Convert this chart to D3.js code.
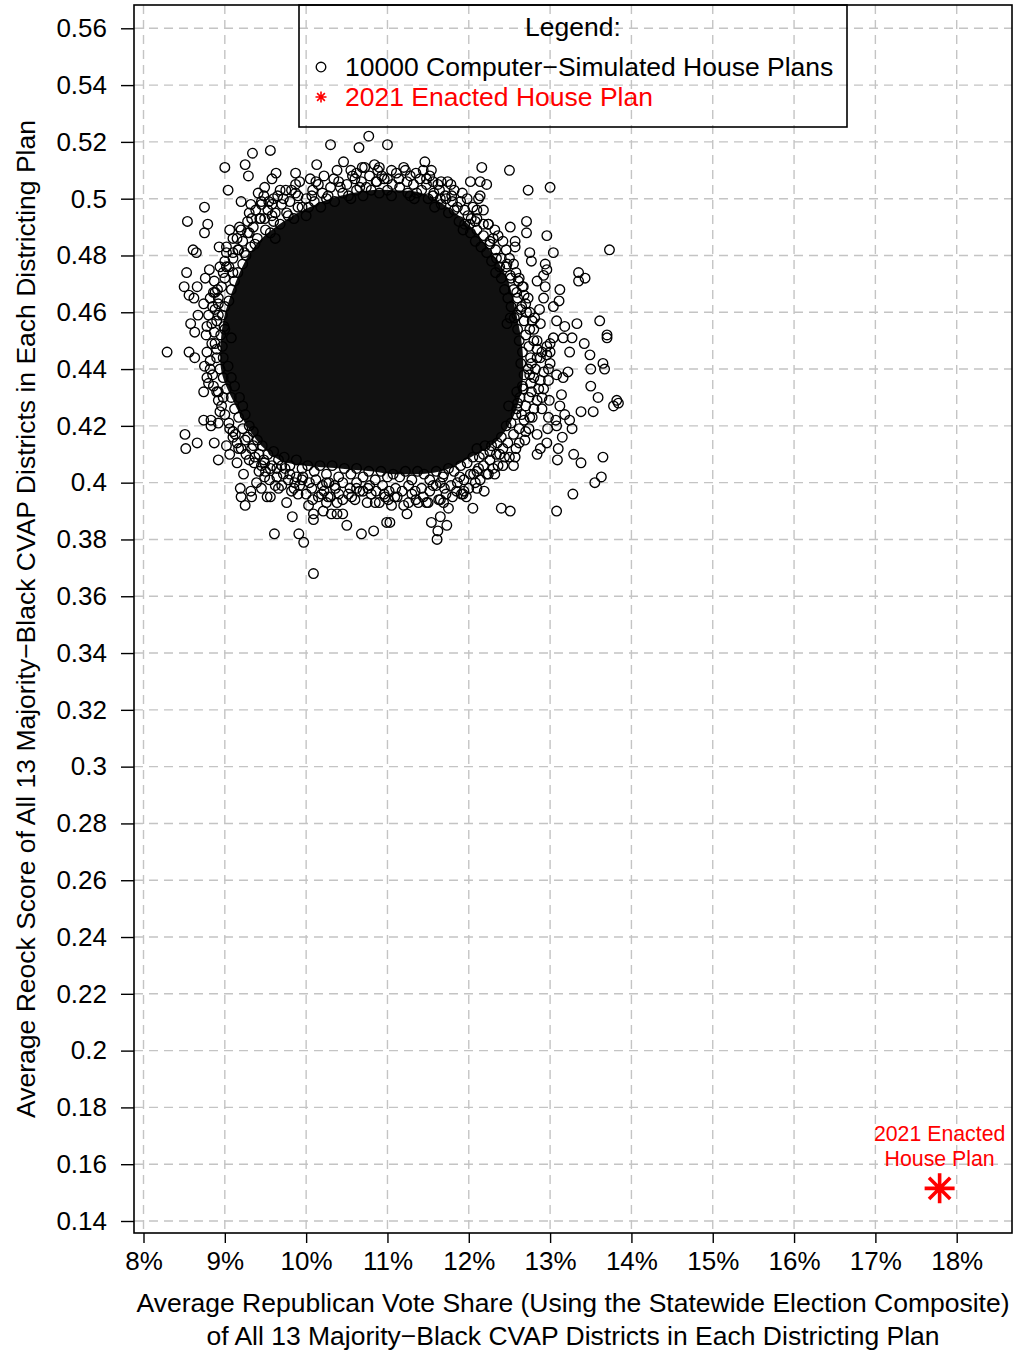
<!DOCTYPE html>
<html><head><meta charset="utf-8">
<script src="https://cdn.jsdelivr.net/npm/d3@7"></script>
<style>body{margin:0;background:#fff} svg{display:block} text{font-family:"Liberation Sans",Arial,Helvetica,sans-serif}</style>
</head><body><svg id="c" width="1014" height="1353"></svg>
<script>
const xTickValues=[8,9,10,11,12,13,14,15,16,17,18];
const xTickLabels=["8%","9%","10%","11%","12%","13%","14%","15%","16%","17%","18%"];
const yTickValues=[0.14,0.16,0.18,0.2,0.22,0.24,0.26,0.28,0.3,0.32,0.34,0.36,0.38,0.4,0.42,0.44,0.46,0.48,0.5,0.52,0.54,0.56];
const yTickLabels=["0.14","0.16","0.18","0.2","0.22","0.24","0.26","0.28","0.3","0.32","0.34","0.36","0.38","0.4","0.42","0.44","0.46","0.48","0.5","0.52","0.54","0.56"];
// outline of the region where the simulated-plan circles overlap into solid black
const simCoreOutline=[[9.42,.485],[9.72,.492],[10.04,.497],[10.42,.501],[10.79,.503],[11.10,.503],[11.42,.502],[11.74,.497],[12.03,.490],[12.28,.481],[12.47,.472],[12.58,.460],[12.66,.447],[12.66,.435],[12.56,.424],[12.36,.415],[12.03,.409],[11.66,.404],[11.10,.403],[10.79,.404],[10.41,.405],[9.97,.406],[9.67,.408],[9.45,.413],[9.27,.420],[9.10,.429],[8.96,.439],[8.95,.449],[8.99,.458],[9.10,.468],[9.25,.478]];
// densely packed simulated plans around the solid region (inner, middle, outer bands and extra)
const simBandInner=[[9.40,.486],[9.50,.489],[9.60,.492],[9.68,.491],[9.76,.495],[9.85,.493],[9.95,.497],[10.00,.494],[10.10,.499],[10.18,.497],[10.25,.500],[10.35,.499],[10.45,.502],[10.55,.500],[10.62,.503],[10.70,.501],[10.80,.503],[10.90,.502],[11.00,.503],[11.05,.501],[11.15,.504],[11.25,.502],[11.33,.500],[11.42,.503],[11.50,.500],[11.58,.497],[11.66,.498],[11.75,.495],[11.82,.496],[11.88,.492],[11.93,.489],[12.02,.488],[12.08,.485],[12.15,.483],[12.22,.481],[12.28,.478],[12.33,.474],[12.40,.472],[12.44,.468],[12.48,.465],[12.52,.462],[12.56,.458],[12.60,.454],[12.62,.450],[12.66,.446],[12.64,.442],[12.68,.438],[12.66,.434],[12.63,.430],[12.60,.428],[12.58,.424],[12.52,.421],[12.46,.420],[12.40,.416],[12.35,.414],[12.28,.413],[12.20,.413],[12.13,.409],[12.05,.409],[11.98,.407],[11.90,.406],[11.82,.404],[11.75,.405],[11.68,.402],[11.60,.404],[11.52,.401],[11.45,.403],[11.37,.404],[11.30,.401],[11.22,.404],[11.15,.402],[11.07,.403],[11.00,.402],[10.92,.404],[10.85,.401],[10.77,.404],[10.70,.402],[10.62,.405],[10.55,.403],[10.47,.405],[10.40,.402],[10.32,.406],[10.25,.403],[10.17,.406],[10.10,.404],[10.02,.406],[9.95,.405],[9.88,.408],[9.80,.406],[9.73,.409],[9.66,.408],[9.60,.411],[9.53,.410],[9.46,.413],[9.40,.415],[9.35,.418],[9.30,.420],[9.25,.424],[9.22,.427],[9.18,.430],[9.12,.434],[9.08,.437],[9.04,.441],[8.98,.444],[8.97,.448],[8.95,.452],[8.99,.455],[8.97,.459],[9.00,.462],[9.05,.464],[9.08,.468],[9.12,.471],[9.16,.474],[9.22,.477],[9.26,.480],[9.32,.483]];
const simBandMiddle=[[9.35,.490],[9.44,.493],[9.53,.496],[9.62,.495],[9.70,.498],[9.80,.499],[9.90,.501],[10.00,.500],[10.08,.503],[10.20,.502],[10.30,.504],[10.40,.506],[10.50,.505],[10.60,.507],[10.68,.506],[10.78,.508],[10.86,.506],[10.96,.507],[11.06,.505],[11.14,.507],[11.24,.506],[11.32,.505],[11.40,.507],[11.48,.505],[11.57,.502],[11.64,.503],[11.72,.500],[11.80,.499],[11.86,.497],[11.95,.496],[12.03,.493],[12.10,.489],[12.18,.487],[12.26,.485],[12.33,.482],[12.40,.479],[12.46,.476],[12.52,.472],[12.55,.468],[12.60,.465],[12.64,.461],[12.68,.457],[12.70,.452],[12.74,.448],[12.76,.444],[12.73,.440],[12.76,.435],[12.74,.430],[12.70,.427],[12.68,.422],[12.62,.419],[12.55,.417],[12.48,.414],[12.42,.412],[12.34,.410],[12.26,.408],[12.18,.406],[12.10,.404],[12.02,.403],[11.94,.401],[11.86,.400],[11.78,.399],[11.70,.398],[11.60,.399],[11.52,.397],[11.42,.398],[11.34,.397],[11.26,.399],[11.18,.397],[11.10,.398],[11.02,.397],[10.94,.399],[10.86,.397],[10.78,.399],[10.70,.397],[10.62,.400],[10.54,.398],[10.45,.400],[10.36,.398],[10.28,.400],[10.20,.399],[10.12,.401],[10.04,.400],[9.96,.402],[9.88,.402],[9.80,.403],[9.72,.403],[9.64,.405],[9.56,.405],[9.48,.408],[9.42,.410],[9.35,.413],[9.28,.416],[9.22,.419],[9.17,.423],[9.12,.426],[9.08,.430],[9.02,.433],[8.98,.437],[8.94,.440],[8.90,.444],[8.88,.449],[8.87,.453],[8.90,.457],[8.88,.461],[8.92,.465],[8.96,.469],[9.00,.472],[9.05,.476],[9.10,.479],[9.16,.482],[9.22,.485],[9.28,.488]];
const simBandOuter=[[9.30,.495],[9.45,.498],[9.60,.500],[9.75,.503],[9.92,.506],[10.05,.507],[10.22,.508],[10.38,.510],[10.55,.510],[10.72,.511],[10.88,.510],[11.05,.510],[11.20,.511],[11.35,.509],[11.52,.508],[11.66,.506],[11.82,.503],[11.98,.500],[12.10,.496],[12.24,.491],[12.36,.487],[12.46,.482],[12.55,.477],[12.62,.472],[12.68,.466],[12.75,.460],[12.80,.454],[12.84,.447],[12.82,.440],[12.86,.433],[12.80,.426],[12.74,.419],[12.62,.414],[12.50,.409],[12.36,.406],[12.22,.403],[12.08,.400],[11.94,.397],[11.80,.395],[11.65,.394],[11.50,.393],[11.35,.394],[11.20,.392],[11.05,.392],[10.90,.393],[10.75,.393],[10.60,.394],[10.45,.394],[10.30,.395],[10.15,.395],[10.00,.396],[9.85,.398],[9.70,.399],[9.55,.401],[9.42,.404],[9.30,.408],[9.20,.412],[9.10,.418],[9.00,.424],[8.92,.429],[8.86,.434],[8.82,.440],[8.78,.446],[8.77,.452],[8.80,.459],[8.82,.465],[8.87,.471],[8.94,.476],[9.02,.481],[9.10,.486],[9.18,.490]];
const simBandExtra=[[9.28,.492],[9.38,.496],[9.48,.501],[9.58,.498],[9.68,.503],[9.15,.486],[9.10,.481],[9.24,.481],[9.82,.503],[10.12,.506],[10.34,.507],[10.62,.509],[10.84,.512],[11.00,.507],[11.28,.508],[11.44,.510],[11.62,.505],[11.78,.505],[11.92,.502],[12.05,.497],[12.32,.489],[12.42,.485],[12.50,.479],[12.58,.474],[12.66,.469],[12.70,.463],[12.78,.457],[12.80,.450],[12.88,.444],[12.80,.437],[12.90,.430],[12.78,.423],[12.70,.418],[12.58,.412],[12.44,.409],[12.30,.405],[12.14,.401],[12.00,.398],[11.85,.397],[11.72,.396],[11.44,.395],[11.30,.396],[11.12,.395],[10.96,.396],[10.80,.396],[10.66,.397],[10.52,.396],[10.38,.393],[10.22,.397],[10.08,.394],[9.92,.399],[9.78,.401],[9.64,.402],[9.50,.404],[9.36,.407],[9.26,.410],[9.15,.414],[9.05,.421],[8.96,.427],[8.90,.432],[8.85,.438],[8.82,.443],[8.84,.456],[8.85,.462],[8.91,.468],[8.98,.474]];
// individually visible simulated plans (vote share %, Reock score)
const simPoints=[[9.34,.516],[9.56,.517],[9.00,.511],[9.25,.512],[9.29,.508],[9.04,.503],[8.75,.497],[8.54,.492],[8.79,.491],[8.75,.488],[9.20,.499],[9.32,.498],[9.63,.509],[9.58,.507],[9.87,.509],[9.87,.505],[9.87,.502],[10.13,.512],[10.15,.505],[10.30,.519],[10.46,.513],[10.57,.508],[10.65,.518],[10.77,.522],[10.69,.511],[11.00,.519],[10.90,.511],
[8.61,.482],[8.65,.481],[8.93,.483],[9.02,.483],[9.17,.482],[8.53,.474],[8.50,.469],[8.81,.475],[8.76,.472],[8.56,.466],[8.66,.469],[8.62,.465],[8.74,.463],[8.88,.467],[8.67,.459],[8.58,.456],[8.63,.453],[8.78,.455],[8.29,.446],[8.56,.446],[9.06,.489],[9.41,.502],[9.49,.504],[9.54,.499],[9.45,.499],[9.65,.501],[9.72,.500],[9.33,.493],[9.43,.493],[9.49,.493],[9.58,.494],[9.20,.489],[9.30,.488],[9.37,.484],[9.56,.488],[9.62,.486],[9.78,.494],[9.90,.497],[10.03,.497],[10.07,.501],[10.27,.501],[10.42,.504],[10.52,.501],[10.66,.504],[10.74,.504],[10.87,.506],[10.93,.508],
[9.00,.478],[9.02,.476],[9.10,.474],[8.86,.467],[8.92,.463],[8.92,.459],[9.00,.454],[9.08,.451],[8.84,.449],[8.90,.447],
[8.63,.444],[8.75,.441],[8.78,.437],[8.80,.435],[8.74,.432],[8.92,.432],[8.98,.430],[8.94,.425],[8.83,.422],[8.74,.422],[8.92,.421],[8.83,.420],[8.51,.417],[8.52,.412],[8.66,.414],[8.87,.414],[8.92,.408],[9.06,.419],[9.10,.416],[9.02,.413],[9.06,.410],[9.15,.407],[9.23,.403],[9.19,.398],[9.20,.395],[9.25,.392],[9.32,.397],[9.33,.395],
[9.39,.400],[9.45,.398],[9.49,.402],[9.52,.395],[9.56,.395],[9.62,.399],[9.66,.398],[9.76,.393],[9.83,.388],[9.61,.382],[9.91,.382],[9.97,.379],[10.09,.368],[10.03,.392],[10.09,.389],[10.09,.387],[10.21,.390],[10.25,.393],[10.31,.389],[10.38,.389],[10.45,.389],[10.50,.385],[9.86,.400],[9.95,.401],[9.82,.397],[9.90,.396],[10.07,.398],[10.19,.396],[10.27,.395],[10.40,.396],[10.56,.395],[10.62,.398],[10.68,.382],[10.83,.383],[10.99,.386],[10.76,.398],[10.85,.393],[10.97,.395],[11.01,.394],[10.35,.399],[10.25,.400],[9.70,.406],[9.74,.405],[9.58,.406],[9.49,.407],[9.13,.417],[9.25,.415],[9.17,.412],[9.33,.412],[9.37,.409],[9.45,.406],
[13.24,.446],[13.49,.445],[13.65,.442],[13.67,.440],[13.50,.440],[13.50,.434],[13.59,.430],[13.53,.425],[13.38,.425],[13.82,.429],[13.78,.427],[13.84,.428],[13.65,.409],[13.63,.402],[13.55,.400],[13.28,.396],[13.38,.407],[13.29,.410],[13.08,.390],[13.09,.408],[13.10,.412],[13.15,.416],[13.07,.422],[12.97,.419],[12.96,.414],[12.88,.412],[12.84,.410],[12.84,.417],[13.24,.422],[13.27,.419],[13.18,.424],[13.12,.427],[13.14,.431],[12.99,.429],[13.00,.442],[12.98,.436],[12.92,.433],[12.40,.391],[12.51,.390],[12.05,.391],[12.19,.397],[12.10,.398],[11.97,.395],[11.93,.396],[11.61,.380],[11.62,.383],[11.54,.386],[11.65,.388],[11.73,.385],[11.75,.391],[11.69,.393],[11.63,.394],[11.24,.389],[11.26,.393],[11.38,.393],[11.48,.393],[11.09,.395],[11.03,.386],[11.56,.399],[11.65,.400],[11.69,.403],[11.89,.402],[11.91,.396],[12.06,.403],[12.12,.405],[12.24,.403],[12.32,.403],[12.42,.406],[12.55,.406],[12.57,.409],[12.38,.410],[12.26,.411],[12.18,.410],[12.10,.412],[12.69,.415],[12.75,.423],[12.65,.424],[12.59,.426],[12.49,.427],[12.98,.423],[13.08,.420],[12.90,.426],[12.84,.429],[12.77,.432],[12.67,.433],[12.59,.432],[12.88,.436],[12.92,.439],[12.98,.440],[13.08,.438],[13.16,.437],[13.22,.439],[12.75,.438],[12.77,.442],[12.84,.444],[12.96,.445],[13.00,.446],
[11.46,.513],[11.54,.510],[11.48,.507],[11.56,.506],[11.22,.510],[11.11,.509],[11.74,.506],[12.02,.506],[12.14,.506],[12.22,.505],[12.16,.511],[12.50,.510],[12.73,.503],[13.00,.504],[12.14,.501],[12.12,.500],[12.18,.496],[11.90,.499],[11.79,.501],[11.71,.501],[11.65,.500],[11.56,.501],[11.36,.502],[11.28,.501],[12.51,.490],[12.71,.492],[12.71,.488],[12.57,.485],[12.57,.483],[12.96,.487],[13.04,.481],[13.73,.482],[13.35,.474],[13.43,.472],[13.35,.471],[12.24,.491],[12.30,.486],[12.26,.484],[12.08,.492],[11.99,.494],[11.95,.491],[12.75,.481],[12.77,.478],[12.94,.477],[12.96,.475],[12.92,.473],[12.84,.471],[12.94,.469],[13.12,.468],[13.11,.464],[13.04,.462],[12.92,.465],[12.87,.461],[13.61,.457],[13.70,.452],[13.70,.451],[13.42,.449],[13.33,.456],[13.27,.451],[13.18,.455],[13.08,.457],[13.16,.451],[13.04,.451],[13.00,.449],[12.96,.448],[12.88,.456],[12.81,.458],[12.71,.460],[12.73,.465],[12.67,.469],[12.59,.467],[12.61,.471],[12.51,.473],[12.47,.477],[12.38,.476],[12.34,.479],[12.65,.462],[12.59,.459],[12.51,.458],[12.47,.456],[12.75,.454],[12.84,.450],[12.90,.446],[12.18,.491],[12.10,.493],[12.01,.491]];
const enactedPlan=[[17.79,0.1515]];
const legendLabels=["10000 Computer\u2212Simulated House Plans","2021 Enacted House Plan"];
const annotationLines=["2021 Enacted","House Plan"];
const xTitleLines=["Average Republican Vote Share (Using the Statewide Election Composite)","of All 13 Majority\u2212Black CVAP Districts in Each Districting Plan"];
const yTitle="Average Reock Score of All 13 Majority\u2212Black CVAP Districts in Each Districting Plan";

const svg=d3.select("#c");
const L=134,R=1012,T=5,B=1233;
const x=d3.scaleLinear().domain([8,18]).range([143.5,956.7]);
const y=d3.scaleLinear().domain([0.14,0.56]).range([1221,28.3]);
const gridCol="#c4c4c4";
const FS=26.5, TFS=26, PR=4.8, PW=1.35;

// grid
const grid=svg.append("g").attr("stroke",gridCol).attr("stroke-width",1.4).attr("stroke-dasharray","9,6");
grid.selectAll("line.v").data(xTickValues).join("line").attr("x1",d=>x(d)).attr("x2",d=>x(d)).attr("y1",T).attr("y2",B);
grid.selectAll("line.h").data(yTickValues).join("line").attr("y1",d=>y(d)).attr("y2",d=>y(d)).attr("x1",L).attr("x2",R);

// solid overlap region
svg.append("path").datum(simCoreOutline)
  .attr("d",d3.line().x(d=>x(d[0])).y(d=>y(d[1])).curve(d3.curveCatmullRomClosed))
  .attr("fill","#111");

const pts=svg.append("g").attr("fill","none").attr("stroke","#000").attr("stroke-width",PW);
[simBandInner,simBandMiddle,simBandOuter,simBandExtra,simPoints].forEach(arr=>
  pts.append("g").selectAll("circle").data(arr).join("circle").attr("cx",d=>x(d[0])).attr("cy",d=>y(d[1])).attr("r",PR));

function asterisk(g,cx,cy,len,sw){
  const d=len/Math.SQRT2;
  const p=`M${cx-len},${cy}L${cx+len},${cy}M${cx},${cy-len}L${cx},${cy+len}M${cx-d},${cy-d}L${cx+d},${cy+d}M${cx-d},${cy+d}L${cx+d},${cy-d}`;
  g.append("path").attr("d",p).attr("stroke","#ff0000").attr("stroke-width",sw).attr("fill","none");
}
enactedPlan.forEach(d=>asterisk(svg,x(d[0]),y(d[1]),15,3.6));
const ann=svg.append("g").attr("fill","#ff0000").attr("font-size",21.3).attr("text-anchor","middle");
annotationLines.forEach((t,i)=>ann.append("text").attr("x",x(enactedPlan[0][0])).attr("y",y(enactedPlan[0][1])-47+i*25).text(t));

// frame
svg.append("rect").attr("x",L).attr("y",T).attr("width",R-L).attr("height",B-T).attr("fill","none").attr("stroke","#000").attr("stroke-width",1.6);

// axes
const xa=svg.append("g").attr("transform",`translate(0,${B})`)
  .call(d3.axisBottom(x).tickValues(xTickValues).tickFormat((d,i)=>xTickLabels[i]).tickSize(10).tickPadding(8.5));
const ya=svg.append("g").attr("transform",`translate(${L},0)`)
  .call(d3.axisLeft(y).tickValues(yTickValues).tickFormat((d,i)=>yTickLabels[i]).tickSize(13).tickPadding(14));
[xa,ya].forEach(a=>{a.select(".domain").remove();a.selectAll("line").attr("stroke","#000").attr("stroke-width",1.4);
  a.selectAll("text").attr("font-size",TFS).attr("fill","#000").attr("font-family","'Liberation Sans',Arial,sans-serif");});

// axis titles
xTitleLines.forEach((t,i)=>svg.append("text").attr("x",(L+R)/2).attr("y",1312+i*33).attr("text-anchor","middle").attr("font-size",FS).text(t));
svg.append("text").attr("transform",`translate(35,${(T+B)/2}) rotate(-90)`).attr("text-anchor","middle").attr("font-size",FS).text(yTitle);

// legend
const lg=svg.append("g");
lg.append("rect").attr("x",299).attr("y",T).attr("width",548).attr("height",122).attr("fill","none").attr("stroke","#000").attr("stroke-width",1.6);
lg.append("text").attr("x",573).attr("y",36).attr("text-anchor","middle").attr("font-size",FS).text("Legend:");
lg.append("circle").attr("cx",321).attr("cy",67).attr("r",PR).attr("fill","none").attr("stroke","#000").attr("stroke-width",PW);
lg.append("text").attr("x",345).attr("y",76).attr("font-size",FS).text(legendLabels[0]);
asterisk(lg,321,97,5.5,1.6);
lg.append("text").attr("x",345).attr("y",106).attr("font-size",FS).attr("fill","#ff0000").text(legendLabels[1]);
</script></body></html>
